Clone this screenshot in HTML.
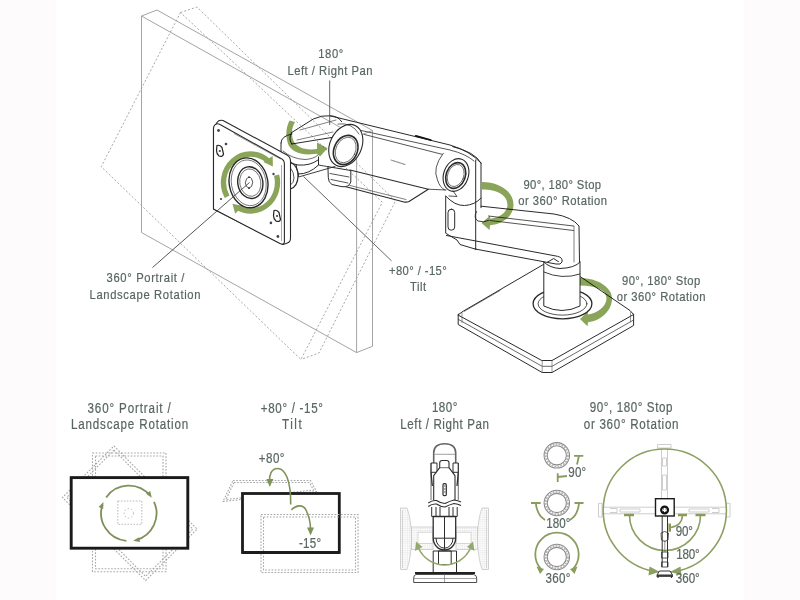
<!DOCTYPE html>
<html><head><meta charset="utf-8">
<style>
html,body{margin:0;padding:0;background:#fff;width:800px;height:600px;overflow:hidden}
svg{display:block}
text{font-family:"Liberation Sans",sans-serif;fill:#58665f;stroke:#58665f;stroke-width:0.2}
</style></head><body>
<svg width="800" height="600" viewBox="0 0 800 600">
<rect x="0" y="0" width="55.5" height="600" fill="#fdfbfc"/>
<rect x="744" y="0" width="56" height="600" fill="#fdfbfc"/>
<!-- TOP ILLUSTRATION -->
<g id="top">
<!-- dashed rotated monitor -->
<g fill="none" stroke="#a8a8a8" stroke-width="1" stroke-dasharray="2 2">
<path d="M180.5 12.5 L101.2 166.7 L300.9 359.5 L382.4 202.3 Z"/>
<path d="M180.5 12.5 L197 7 L395.5 201 L319 353 L300.9 359.5"/>
</g>
<!-- solid monitor box -->
<g fill="none" stroke="#9a9a9a" stroke-width="0.9">
<path d="M141.5 16 L141.5 232.5 L356.6 352.6 L356.6 136.5 Z"/>
<path d="M141.5 16 L157 10 L372.5 130.5 L372.5 346.3 L356.6 352.6"/>
<path d="M356.6 136.5 L372.5 130.5"/>
</g>
<!-- ARM -->
<g id="arm" stroke="#2a2a2a" stroke-width="1" fill="none" stroke-linejoin="round" stroke-linecap="round">
<!-- base plate -->
<path d="M458.2 314.7 L458.2 324.5 L542.2 372.5 L552 372.5 L633.6 325.5 L633.6 314.5 Z" fill="#fff" stroke-width="1"/>
<path d="M458.2 314.7 L463.5 311 L553.7 258.5 L630 310.5 L633.6 314.5 L552 360.5 L542.2 360.5 Z" fill="#fff" stroke-width="1"/>
<path d="M458.5 319.5 L542.2 366.3 L552 366.3 L633.6 320" stroke-width="0.7"/>
<path d="M542.2 360.5 L542.2 372.5 M552 360.5 L552 372.5 M462 313 L462 322.5 M630.5 312.5 L630.5 322" stroke-width="0.6" stroke="#555"/>
<path d="M464 311.5 L500 290.5" stroke-width="0.6"/>
<ellipse cx="562.5" cy="303.8" rx="29.4" ry="15" fill="#fff" stroke-width="1.3"/>
<ellipse cx="562.5" cy="303.8" rx="24.4" ry="11.3" stroke-width="0.8"/>
<!-- post -->
<path d="M543.8 262 L543.8 306 Q562 315 580 306 L580 262" fill="#fff"/>
<path d="M543.8 272 Q562 280 580 274" stroke-width="0.9"/>
<!-- forearm -->
<path d="M481 206.2 L554 214 Q572 217 579 226 L579.5 262" />
<path d="M488.5 216 L573.5 226 M490 220.5 L573.5 230.5" stroke-width="0.8"/>
<path d="M446.5 235.5 L557.5 256.3 Q563 257.5 562 262 Q561 265 556 264 L475 249" stroke-width="1"/>
<path d="M574 226 L574 262" stroke-width="0.6"/>
<path d="M543.8 262 Q550 268 560 268.5 Q575 268 580 262" />
<path d="M476.5 211.5 Q473 218 478 221 Q484 223 488.5 220.5" stroke-width="0.9"/>
<!-- elbow block -->
<path d="M445.7 196.5 L445.7 233.2 L457 240 L460 244.5 L475 249 L476 249"/>
<path d="M445.7 196 Q455 206 464.5 205.5 Q475 205 481 198"/>
<path d="M481 163 L481 207.7 M475.7 160 L475.7 249"/>
<path d="M452.6 146.6 Q475 152 481 163" />
<rect x="448" y="209.2" width="6.7" height="21" rx="3.3" stroke-width="1"/>
<!-- upper arm body -->
<path d="M330 115.8 L450 145 Q470 151 481 163" stroke-width="1"/>
<path d="M352 128.5 L450 150 Q466 154 474 161" stroke-width="0.8"/>
<path d="M364 134.4 L441.7 154.2" stroke-width="0.8"/>
<path d="M350 170 L428.3 189.2 L409 201.5 Q407 202.5 404 202 L345 186.5" stroke-width="1.1"/>
<path d="M346 184.5 L406 199.5" stroke-width="0.6"/>
<path d="M428.3 189.2 L446 190" stroke-width="0.8"/>
<path d="M415.8 135.8 L430.8 140" stroke="#111" stroke-width="1.8"/>
<path d="M391 160 L405 164.5" stroke="#999" stroke-width="1.2" stroke-dasharray="1.5 0.6"/>
<!-- right ring housing -->
<path d="M443.3 153.3 Q432 168 437.5 180 Q440 188 445 190" stroke-width="0.8"/>
<ellipse cx="456" cy="175" rx="12.3" ry="16.8" transform="rotate(20 456 175)" fill="#fff" stroke-width="1.1"/>
<ellipse cx="455.7" cy="175.5" rx="9.6" ry="13.2" transform="rotate(20 455.7 175.5)" stroke-width="1.6"/>
<ellipse cx="455.7" cy="175.5" rx="8" ry="11.4" transform="rotate(20 455.7 175.5)" stroke-width="0.6"/>
<path d="M453 191 L457 196.5 L449 196" stroke-width="0.8"/>
<!-- left ring -->
<ellipse cx="345.8" cy="145.5" rx="15.8" ry="22" transform="rotate(25 345.8 145.5)" fill="#fff" stroke-width="1.1"/>
<path d="M338 124 Q352 122 359 134" stroke-width="0.7"/>
<ellipse cx="345.7" cy="150" rx="11.6" ry="15.2" transform="rotate(25 345.7 150)" stroke-width="1.6"/>
<ellipse cx="345.7" cy="150" rx="9.8" ry="13.3" transform="rotate(25 345.7 150)" stroke-width="0.6"/>
<!-- bracket under left ring -->
<path d="M328.3 166.7 L350.8 170.5 L350.8 182 Q349 187.5 342 186.7 L332 184.5 Q328.3 182.5 328.3 178 Z" fill="#fff"/>
<path d="M330 173.5 L349 177 M331 179.5 L348 183" stroke-width="0.8"/>
<!-- pan joint cylinder -->
<path d="M281 143 L281 155 Q286 163 298 165 Q310 166 318 160" />
<path d="M283 151 Q292 159 305 159.5 Q314 159 318 155" stroke-width="0.7"/>
<path d="M296 164.5 Q297 170 298.5 174 Q309 174 318.5 165 L318.5 157" stroke-width="1"/>
<path d="M298.5 174 L298.5 177 L335 166.5 M318.5 165 L328.3 166.7" stroke-width="0.9"/>
<path d="M281 143 Q281 136 292 134"/>
<!-- link -->
<path d="M291.7 132.5 L313.3 119 Q322 115 330 115.8 Q338 116 341.7 121.7" />
<path d="M291.7 144 L331.7 137.5" />
<path d="M291.7 132.5 Q288 138 291.7 144" />
<path d="M300 130 L336 120 M297 140 L333 132" stroke-width="0.6"/>
<!-- tilt hub behind plate -->
<path d="M290.5 162 Q298 166 298 176 Q298 186 290.5 189" stroke-width="1.2"/>
<path d="M290.5 168 Q294 172 294 178 Q294 183 290.5 185" stroke-width="0.8"/>
</g>
<!-- arm green arrows -->
<g fill="#8aa45a" style="mix-blend-mode:multiply">
<path d="M289.5 120.5 C 285.5 128, 285.5 138, 288.5 145 C 292.5 152.5, 302 155.5, 314 154 L 317 153.8 L 320 156.5 L 327.5 148.3 L 317 142.5 L 317 149 C 305 150.5, 297 147.5, 293.5 141 C 291 135, 291.5 128, 295 122 Z"/>
<path d="M482 182 C 499 182, 513.5 191, 513.5 205 C 513.5 216, 503 224, 490 225.3 L 489.5 230 L 481.5 223 L 490 215.8 L 490.3 218.8 C 501 217.5, 507.5 211, 507.5 205 C 507.5 195, 497 189.5, 482 189.5 Z"/>
<path d="M580 278 C 597 278, 612 287, 612 298.5 C 612 310, 602 320.5, 588 322.3 L 587.5 326.2 L 580 319 L 587.5 311.7 L 588 314.5 C 598 313, 606.5 306, 606.5 298.5 C 606.5 290.5, 597 285.5, 580 285.5 Z"/>
</g>
<!-- leader lines -->
<g fill="none" stroke="#555" stroke-width="0.9">
<path d="M391.5 260.8 L303.5 176.5"/>
<path d="M329.7 80.5 L329.7 125"/>
</g>
<!-- mounting plate -->
<g fill="#fff" stroke="#2a2a2a" stroke-width="1.1" stroke-linejoin="round">
<path d="M217 122.5 Q219 119.5 223 120.5 L287 155 Q290.5 157 290.5 161 L290.5 238 Q290.5 242 287.5 243 L283 244.5 L213.5 209 L213.5 128 Z"/>
<path d="M216.5 124 Q213.5 125 213.5 129 L213.5 209 L280 243.5 Q284.4 245.5 284.4 241.5 L284.4 164 Q284.4 160 281 158.5 L220 124.5 Q218 123.3 216.5 124 Z"/>
</g>
<g fill="none" stroke="#555" stroke-width="0.6">
<path d="M281.5 241 L281.5 165" stroke-width="0.5"/>
<path d="M234 133.5 L280.5 159"/>
</g>
<g fill="#444">
<circle cx="218.5" cy="130.5" r="1.4"/><circle cx="226" cy="144" r="1.3"/>
<circle cx="270.9" cy="222.9" r="1.3"/><circle cx="277.9" cy="236.5" r="1.4"/>
<circle cx="273.5" cy="174" r="1.2"/><circle cx="221" cy="199" r="1.1"/>
</g>
<g fill="#fff" stroke="#222" stroke-width="1.2">
<path d="M217 145.5 Q219.5 144.5 222 147.5 L223.5 154 Q222.5 157.5 219 156 Q216.5 154 216.5 150.5 Z"/>
<path d="M274 210.5 Q276.5 209.5 279 212.5 L280.5 219.5 Q279.5 222.5 276 221 Q273.5 219 273.5 215.5 Z"/>
</g>
<g fill="#444">
<circle cx="219.8" cy="151" r="1.1"/><circle cx="277" cy="216" r="1.1"/>
</g>
<!-- plate rings -->
<g fill="none" stroke="#2a2a2a">
<ellipse cx="248.5" cy="182.8" rx="19.3" ry="25.1" transform="rotate(-10 248.5 182.8)" stroke-width="1.4"/>
<ellipse cx="248.7" cy="182.8" rx="17.3" ry="23" transform="rotate(-10 248.7 182.8)" stroke-width="0.6"/>
<ellipse cx="250.3" cy="182.6" rx="12.5" ry="16" transform="rotate(-10 250.3 182.6)" stroke-width="1.4"/>
<ellipse cx="250.3" cy="182.6" rx="10.5" ry="13.8" transform="rotate(-10 250.3 182.6)" stroke-width="0.6"/>
<path d="M246.5 179 Q249 175.5 251.5 178.5 Q254 182 251.5 186.5 Q249 189.5 246.5 186.5 Q244 183 246.5 179 Z" stroke-width="0.8"/>
<path d="M249 176.5 L249 178 M249 187.5 L249 189" stroke-width="1.5"/>
</g>
<!-- plate green arrows -->
<g style="mix-blend-mode:multiply">
<g fill="none" stroke="#8aa45a" stroke-width="5.3">
<path d="M227.12 196.75 A27 28.5 0 0 1 267.86 160.67"/>
<path d="M276.58 175.12 A27 28.5 0 0 1 237.82 207.66"/>
</g>
<g fill="#8aa45a">
<path d="M272.88 166.56 L263.40 161.94 L272.67 156.02 Z"/>
<path d="M232.43 203.68 L242.75 205.89 L235.17 213.87 Z"/>
</g>
</g>
<path d="M152.5 267.5 L249.5 182.5" stroke="#444" stroke-width="0.9" fill="none"/>
</g>
<!-- BOTTOM DIAGRAM 1: portrait/landscape -->
<g fill="none" stroke="#a8a8a8" stroke-width="1.1" stroke-dasharray="1.7 1.5">
<rect x="92.5" y="453" width="73.5" height="118.7"/>
<rect x="95.5" y="456" width="67.5" height="112.7"/>
<g transform="rotate(45 129.8 513.3)">
<rect x="71" y="476.9" width="117.6" height="72.8"/>
<rect x="74" y="479.9" width="111.6" height="66.8"/>
</g>
</g>
<rect x="71.2" y="477.6" width="116.6" height="70.6" fill="#fff" stroke="#1a1a1a" stroke-width="2.9"/>
<g fill="none" stroke="#aaa" stroke-width="0.8" stroke-dasharray="1.6 1.4">
<rect x="117.8" y="501" width="24" height="23.3"/>
<circle cx="128.8" cy="513.3" r="4.7" stroke-dasharray="1.4 2"/>
</g>
<g fill="none" stroke="#7f905a" stroke-width="1.8">
<path d="M106.11 497.41 A27.7 27.7 0 0 1 150.02 495.49"/>
<path d="M154.01 501.81 A27.7 27.7 0 0 1 135.97 540.06"/>
<path d="M126.39 540.89 A27.7 27.7 0 0 1 102.46 504.74"/>
</g>
<g fill="#7f905a">
<path d="M151.76 497.81 L146.06 493.82 L150.20 491.02 Z"/>
<path d="M133.13 540.66 L139.16 537.17 L139.94 542.11 Z"/>
<path d="M103.49 502.03 L103.13 508.99 L98.57 506.95 Z"/>
</g>
<!-- BOTTOM DIAGRAM 2: tilt -->
<g fill="none" stroke="#a8a8a8" stroke-width="1.1" stroke-dasharray="1.7 1.5">
<path d="M233 480.5 L310.5 480.5 L316.5 491.5 L223 501.5 Z"/>
<path d="M234 482.5 L309.5 482.5 L313.5 490 L226 499.5 Z"/>
</g>
<rect x="242.5" y="493.5" width="96.8" height="59" fill="#fff" stroke="#1c1c1c" stroke-width="2.8"/>
<g fill="none" stroke="#a8a8a8" stroke-width="1.1" stroke-dasharray="1.7 1.5">
<path d="M261 514.5 L358 514.5 L358 572.5 L261 572.5 Z"/>
<path d="M263.5 517 L355.5 517 L355.5 570 L263.5 570 Z"/>
</g>
<path d="M242.5 552.5 L339.3 552.5" stroke="#1c1c1c" stroke-width="2.8"/>
<g fill="none" stroke="#7f925a" stroke-width="1.6">
<path d="M290.7 504.6 C 291 480, 285 468.5, 277.5 468.5 C 271 468.5, 269 476, 269.8 481"/>
<path d="M291.3 510 C 296 505, 303 504, 306 510 C 309 516, 310.5 525, 310.5 529"/>
</g>
<g fill="#7f925a">
<path d="M266.3 479 L273.3 479 L269.8 487 Z"/>
<path d="M307 527.5 L314 527.5 L310.5 535.5 Z"/>
</g>
<!-- BOTTOM DIAGRAM 3: pan -->
<defs>
<pattern id="hatch" width="2.2" height="2.2" patternUnits="userSpaceOnUse">
<path d="M0 0.5 H2.2 M0.5 0 V2.2" stroke="#e4e4e4" stroke-width="0.5"/>
</pattern>
</defs>
<g fill="url(#hatch)" stroke="#c8c8c8" stroke-width="0.8">
<path d="M400.5 508 L407 508 Q411.5 520 411.5 538 Q411.5 556 407 569.5 L400.5 569.5 Z"/>
<path d="M488.5 508 L482 508 Q477.5 520 477.5 538 Q477.5 556 482 569.5 L488.5 569.5 Z"/>
<rect x="411.5" y="527" width="21.5" height="22.5"/>
<rect x="456" y="527" width="21.5" height="22.5"/>
</g>
<g fill="none" stroke="#c8c8c8" stroke-width="0.7">
<path d="M402.5 510 L402.5 568 M486.5 510 L486.5 568"/>
<rect x="418" y="532.2" width="14.5" height="11.3" fill="#fff"/>
<rect x="456.5" y="532.2" width="14.5" height="11.3" fill="#fff"/>
</g>
<g fill="none" stroke="#2e2e2e" stroke-width="1" stroke-linejoin="round">
<path d="M433.7 463 L433.7 453 Q433.7 443.7 444.7 443.7 Q455.7 443.7 455.7 453 L455.7 463" stroke="#666" stroke-width="1.6"/>
<path d="M434.5 454.3 L455 454.3" stroke="#777" stroke-width="0.7"/>
<path d="M431 463 L437 463 L437 472.3 L431 472.3 Z M453 463 L458.3 463 L458.3 472.3 L453 472.3 Z" fill="#fff"/>
<path d="M431 472.3 L432.3 486 M437 472.3 L436 480 M458.3 472.3 L457 486 M453 472.3 L454 480" stroke-width="1.3"/>
<path d="M431 463 L431 500 M458.3 463 L458.3 500" stroke-width="0.7"/>
<path d="M433.7 500.3 L433.7 475.7 L439.7 467.7 L439.7 463 Q439.7 460.5 442 460.5 L446.7 460.5 Q449 460.5 449 463 L449 467.7 L455 475.7 L455 500.3" fill="#fff" stroke-width="1.1"/>
<path d="M439.7 467.7 L449 467.7" stroke-width="0.7"/>
<rect x="443" y="483.7" width="3.3" height="12" rx="1.2" fill="#fff" stroke-width="1.2"/>
<path d="M444 486 L445.5 486 M444 489 L445.5 489 M444 492 L445.5 492" stroke-width="0.8"/>
<path d="M428.3 503 Q432 500 436.5 500.5 Q441 503.5 445 503.5 Q450 501 454 500 Q458 500.5 461 502" stroke-width="1.1"/>
<path d="M428.3 506.5 Q432 503.5 436.5 504 Q441 507 445 507 Q450 504.5 454 503.5 Q458 504 461 505.5" stroke-width="1.1"/>
<path d="M431.7 507 L431.7 516.5 L457.2 516.5 L457.2 507 M436 507 L436 516.5 M440 507 L440 516.5 M449 507 L449 516.5 M453 507 L453 516.5"/>
<path d="M433.2 516.5 L433.2 538 A11.25 12 0 0 0 455.7 538 L455.7 516.5 Z" stroke-width="1.3"/>
<path d="M433.2 538.2 L455.7 538.2 M444.5 516.5 L444.5 550"/>
<path d="M436 538.2 A8.5 10 0 0 0 453 538.2"/>
<path d="M433.2 551 L433.2 572.7 M456.5 551 L456.5 572.7 M433.2 551 L456.5 551"/>
<rect x="438.5" y="551" width="12.7" height="13.5"/>
</g>
<path d="M415 573 L475 573" stroke="#222" stroke-width="1.8"/>
<path d="M416 574.5 L473.5 574.5 Q476.7 575 476.7 578 L476.7 582.5 L413.7 582.5 L413.7 578 Q413.7 575 416 574.5 Z" fill="none" stroke="#3a3a3a" stroke-width="0.9"/>
<path d="M414 578.5 L476 578.5 M444.5 574 L444.5 582" stroke="#666" stroke-width="0.6"/>
<path d="M418.5 548 A28.4 28.4 0 0 0 470.5 548" fill="none" stroke="#94a86c" stroke-width="1.6"/>
<g fill="#94a86c">
<path d="M416 541.5 L422.5 547 L415 551 Z"/>
<path d="M473 541.5 L474.5 551 L467 547 Z"/>
</g>
<!-- BOTTOM DIAGRAM 4: stops -->
<g fill="none" stroke="#8c8c8c">
<circle cx="556.8" cy="455.3" r="12.7" stroke-width="1.1"/>
<circle cx="556.8" cy="455.3" r="9.6" stroke-width="1.1"/>
<circle cx="556.8" cy="455.3" r="11.15" stroke-width="2" stroke-dasharray="1.8 1.2" stroke="#b4b4b4"/>
<circle cx="556.8" cy="503" r="12.7" stroke-width="1.1"/>
<circle cx="556.8" cy="503" r="9.6" stroke-width="1.1"/>
<circle cx="556.8" cy="503" r="11.15" stroke-width="2" stroke-dasharray="1.8 1.2" stroke="#b4b4b4"/>
<circle cx="556.8" cy="557" r="12.7" stroke-width="1.1"/>
<circle cx="556.8" cy="557" r="9.6" stroke-width="1.1"/>
<circle cx="556.8" cy="557" r="11.15" stroke-width="2" stroke-dasharray="1.8 1.2" stroke="#b4b4b4"/>
</g>
<g fill="none" stroke="#8a9c5e" stroke-width="1.8">
<path d="M574 455.8 L583.3 455.8 M579 455.8 L577 464.5"/>
<path d="M557.7 473.3 L557.7 482 M557.7 477 L567 476"/>
<path d="M531 503 L540.7 503 M574.5 503 L583.5 503"/>
<path d="M535.8 503 Q537 515 545 520 M579 503 Q578 515 570 520"/>
<path d="M541 569 A21.7 21.7 0 1 1 573 569"/>
</g>
<g fill="#8a9c5e">
<path d="M536.5 566.5 L544 569 L540 574 Z"/>
<path d="M577.5 566.5 L574.5 574 L570 569 Z"/>
</g>
<!-- big circle -->
<g fill="none" stroke="#c8c8c8" stroke-width="0.9">
<path d="M598.5 503.3 L602 503.3 L602 517 L598.5 517 Z M726.5 503.3 L730 503.3 L730 517 L726.5 517 Z"/>
<path d="M602 507.2 L655.5 507.2 M602 513.8 L655.5 513.8 M674.2 507.2 L726.5 507.2 M674.2 513.8 L726.5 513.8"/>
<path d="M610 508.5 L617 508.5 L617 512.5 L610 512.5 M620 509 L640 509 L640 512 L620 512 Z M689 509 L709 509 L709 512 L689 512 Z M712 508.5 L719 508.5 L719 512.5 L712 512.5"/>
<path d="M657.5 444.5 L671 444.5 L671 448 L657.5 448 Z"/>
<path d="M661.5 448 L661.5 498.7 M667.5 448 L667.5 498.7"/>
<path d="M662.5 458 L666.5 458 L666.5 466 L662.5 466 Z M662.5 475 L666.5 475 L666.5 490 L662.5 490 Z"/>
</g>
<g fill="none" stroke="#8d9f62" stroke-width="1.6">
<path d="M659.43 571.97 A61.6 61.6 0 0 1 603.20 510.60 M603.20 510.60 A61.6 61.6 0 0 1 726.40 510.60 M726.40 510.60 A61.6 61.6 0 0 1 670.17 571.97"/>
<path d="M629.5 515 A35.5 35.5 0 0 0 700.5 515"/>
<path d="M682.5 515 Q682 526 670.5 527.5"/>
</g>
<g fill="#8d9f62">
<path d="M659.5 571.8 L649.5 566.5 L648.5 575.5 Z"/>
<path d="M670.5 571.8 L680.5 566.5 L681.5 575.5 Z"/>
</g>
<g fill="none" stroke="#8a9a5c" stroke-width="2.6">
<path d="M624 515 L634 515 M695.5 515 L705.5 515 M678 515 L687 515"/>
<path d="M669.7 523.5 L669.7 531.7"/>
</g>
<g fill="none" stroke="#333" stroke-width="1">
<path d="M662.2 516 L662.2 567 M667.5 516 L667.5 567"/>
</g>
<g fill="none" stroke="#333" stroke-width="0.8">
<path d="M661 533 Q664.8 530 668.5 533 L668 540 Q664.8 543 661.5 540 Z"/>
<path d="M661.5 552 L668 552 L668 558 L661.5 558 Z"/>
<path d="M661.5 562 L668 562 L668 567 L661.5 567 Z"/>
</g>
<path d="M664.8 540 L664.8 552" stroke="#555" stroke-width="0.6"/>
<rect x="655.5" y="498.7" width="18.7" height="17.3" fill="none" stroke="#1a1a1a" stroke-width="1.4"/>
<circle cx="664.6" cy="510" r="3.4" fill="#fff" stroke="#111" stroke-width="2.2"/>
<path d="M663 508.5 h1 v1 h-1 Z M665.5 508.5 h1 v1 h-1 Z M663 511 h1 v1 h-1 Z M665.5 511 h1 v1 h-1 Z" fill="#333"/>
<path d="M659.5 571 L670 571 L672.5 575 L657 575 Z" fill="#fff" stroke="#333" stroke-width="1"/>
<path d="M656.5 576 L673 576" stroke="#222" stroke-width="1.6"/>
<path d="M658 576 L658 578 M671.5 576 L671.5 578" stroke="#333" stroke-width="1.2"/>
<!-- TOP LABELS -->
<g id="labels">
<text transform="translate(318.25 58.00) scale(0.84 1)" font-size="13.4" textLength="29.76" lengthAdjust="spacing">180°</text>
<text transform="translate(287.50 74.50) scale(0.84 1)" font-size="13.4" textLength="101.19" lengthAdjust="spacing">Left / Right Pan</text>
<text transform="translate(106.50 282.00) scale(0.84 1)" font-size="13.4" textLength="92.86" lengthAdjust="spacing">360° Portrait /</text>
<text transform="translate(89.50 299.00) scale(0.84 1)" font-size="13.4" textLength="132.14" lengthAdjust="spacing">Landscape Rotation</text>
<text transform="translate(388.90 275.00) scale(0.84 1)" font-size="13.4" textLength="68.87" lengthAdjust="spacing">+80° / -15°</text>
<text transform="translate(410.10 291.25) scale(0.84 1)" font-size="13.4" textLength="19.05" lengthAdjust="spacing">Tilt</text>
<text transform="translate(523.50 188.75) scale(0.84 1)" font-size="13.4" textLength="92.26" lengthAdjust="spacing">90°, 180° Stop</text>
<text transform="translate(518.25 205.25) scale(0.84 1)" font-size="13.4" textLength="105.65" lengthAdjust="spacing">or 360° Rotation</text>
<text transform="translate(622.00 284.50) scale(0.84 1)" font-size="13.4" textLength="93.15" lengthAdjust="spacing">90°, 180° Stop</text>
<text transform="translate(616.75 301.00) scale(0.84 1)" font-size="13.4" textLength="105.65" lengthAdjust="spacing">or 360° Rotation</text>
<text transform="translate(87.50 412.50) scale(0.84 1)" font-size="13.8" textLength="99.11" lengthAdjust="spacing">360° Portrait /</text>
<text transform="translate(70.90 429.10) scale(0.84 1)" font-size="13.8" textLength="139.70" lengthAdjust="spacing">Landscape Rotation</text>
<text transform="translate(260.80 412.60) scale(0.84 1)" font-size="13.8" textLength="74.05" lengthAdjust="spacing">+80° / -15°</text>
<text transform="translate(282.10 428.70) scale(0.84 1)" font-size="13.8" textLength="23.33" lengthAdjust="spacing">Tilt</text>
<text transform="translate(431.90 412.25) scale(0.84 1)" font-size="13.8" textLength="30.36" lengthAdjust="spacing">180°</text>
<text transform="translate(400.30 428.80) scale(0.84 1)" font-size="13.8" textLength="105.60" lengthAdjust="spacing">Left / Right Pan</text>
<text transform="translate(589.75 412.25) scale(0.84 1)" font-size="13.8" textLength="98.51" lengthAdjust="spacing">90°, 180° Stop</text>
<text transform="translate(583.75 428.75) scale(0.84 1)" font-size="13.8" textLength="112.80" lengthAdjust="spacing">or 360° Rotation</text>
<text transform="translate(258.70 463.30) scale(0.84 1)" font-size="13.8" textLength="30.71" lengthAdjust="spacing">+80°</text>
<text transform="translate(299.00 547.75) scale(0.84 1)" font-size="13.8" textLength="26.31" lengthAdjust="spacing">-15°</text>
<text transform="translate(568.25 476.75) scale(0.84 1)" font-size="13.8" textLength="21.37" lengthAdjust="spacing">90°</text>
<text transform="translate(546.20 527.70) scale(0.84 1)" font-size="13.8" textLength="28.93" lengthAdjust="spacing">180°</text>
<text transform="translate(545.50 582.50) scale(0.84 1)" font-size="13.8" textLength="29.76" lengthAdjust="spacing">360°</text>
<text transform="translate(675.80 535.80) scale(0.84 1)" font-size="13.8" textLength="20.48" lengthAdjust="spacing">90°</text>
<text transform="translate(676.20 559.20) scale(0.84 1)" font-size="13.8" textLength="27.98" lengthAdjust="spacing">180°</text>
<text transform="translate(675.80 583.30) scale(0.84 1)" font-size="13.8" textLength="28.45" lengthAdjust="spacing">360°</text>
</g>
</svg>
</body></html>
